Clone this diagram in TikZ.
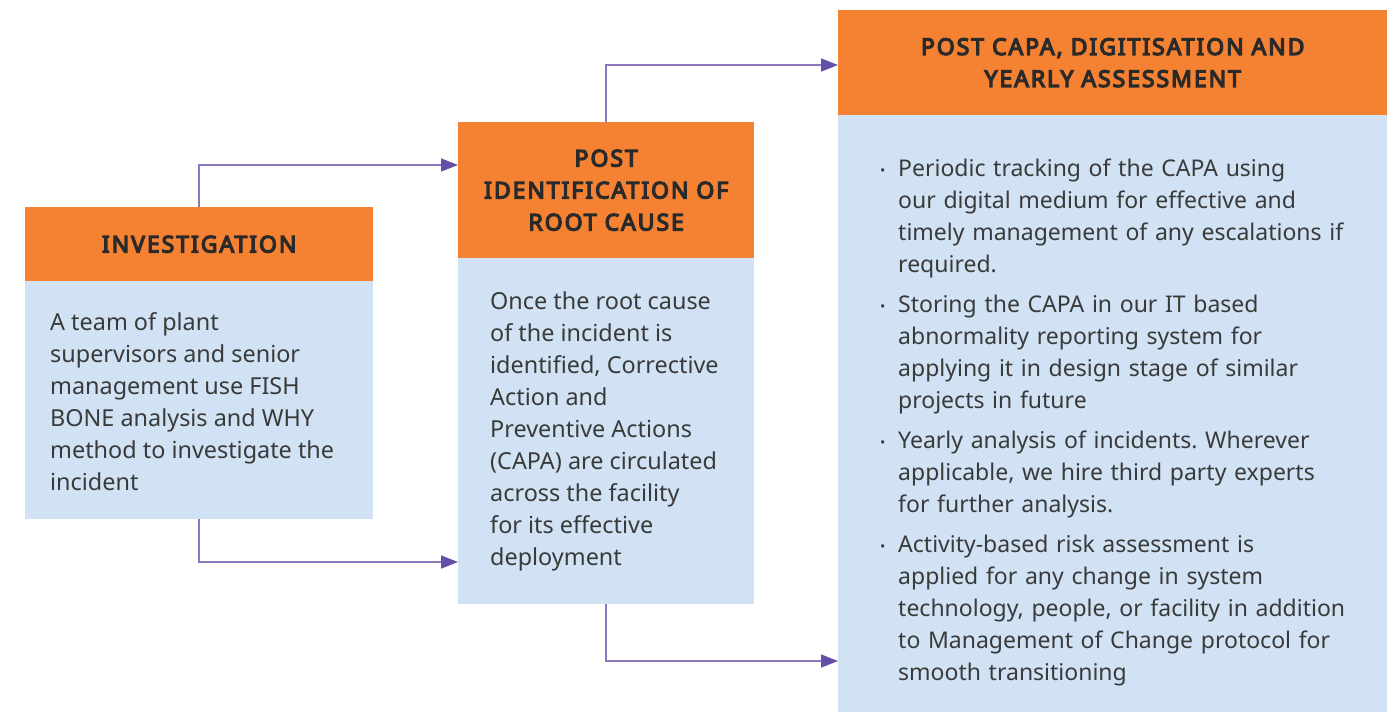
\documentclass[tikz,border=0pt]{standalone}
\usepackage{fontspec}
\setmainfont{Noto Sans}
\newfontfamily\hfont{Noto Sans}[FakeBold=5.5,LetterSpace=8.5]
\usetikzlibrary{arrows.meta,calc}
\definecolor{hdr}{HTML}{F58233}
\definecolor{bdy}{HTML}{D0E2F3}
\definecolor{txt}{HTML}{3A3A3A}
\definecolor{htxt}{HTML}{2A2A2A}
\definecolor{arrline}{HTML}{8C77C0}
\definecolor{arrtip}{HTML}{6450A8}
\frenchspacing
\newcommand\bitem[1]{\par\hangindent=18pt\hangafter=1\noindent\makebox[18pt][l]{\raisebox{1pt}{\fontsize{14}{14}\selectfont•}}#1\par}
\begin{document}
\begin{tikzpicture}[x=1pt,y=-1pt,
  hbox/.style={fill=hdr,draw=none,inner sep=0,anchor=north west,align=center,
    font=\hfont\fontsize{23}{32}\selectfont,text=htxt},
  bbox/.style={fill=bdy,draw=none,inner sep=0,anchor=north west},
  btext/.style={inner sep=0,anchor=north west,align=left,
    font=\fontsize{23.4}{32}\selectfont,text=txt},
  arr/.style={draw=arrline,line width=1.6pt,-{Triangle[length=17pt,width=13pt,fill=arrtip,color=arrtip]}}]
\useasboundingbox (0,0) rectangle (1396,712);
% box 1
\node[hbox,minimum width=348pt,minimum height=74pt] (h1) at (25,207) {INVESTIGATION};
\node[bbox,minimum width=348pt,minimum height=238pt] (b1) at (25,281) {};
\node[btext] (t1) at (50,312) {A team of plant\\supervisors and senior\\management use FISH\\BONE analysis and WHY\\method to investigate the\\incident};
% box 2
\node[hbox,minimum width=296pt,minimum height=136pt] (h2) at (458,122) {POST\\IDENTIFICATION OF\\ROOT CAUSE};
\node[bbox,minimum width=296pt,minimum height=346pt] (b2) at (458,258) {};
\node[btext] (t2) at (490,292) {Once the root cause\\of the incident is\\identified, Corrective\\Action and\\Preventive Actions\\(CAPA) are circulated\\across the facility\\for its effective\\deployment};
% box 3
\node[hbox,minimum width=549pt,minimum height=105pt] (h3) at (838,10) {POST CAPA, DIGITISATION AND\\YEARLY ASSESSMENT};
\node[bbox,minimum width=549pt,minimum height=597pt] (b3) at (838,115) {};
\node[inner sep=0,anchor=north west,text width=505pt,
    font=\fontsize{23}{32}\selectfont,text=txt] (t3) at (880,136) {\parskip=8pt
\bitem{Periodic tracking of the CAPA using\newline our digital medium for effective and\newline timely management of any escalations if\newline required.}
\bitem{Storing the CAPA in our IT based\newline abnormality reporting system for\newline applying it in design stage of similar\newline projects in future}
\bitem{Yearly analysis of incidents. Wherever\newline applicable, we hire third party experts\newline for further analysis.}
\bitem{Activity-based risk assessment is\newline applied for any change in system\newline technology, people, or facility in addition\newline to Management of Change protocol for\newline smooth transitioning}};
% connectors
\draw[arr] (h1.north) |- ($(h2.north west)+(0,43)$);
\draw[arr] (b1.south) |- ($(b2.north west)+(0,304)$);
\draw[arr] (h2.north) |- ($(h3.north west)+(0,55)$);
\draw[arr] (b2.south) |- ($(b3.north west)+(0,546)$);
\end{tikzpicture}
\end{document}
